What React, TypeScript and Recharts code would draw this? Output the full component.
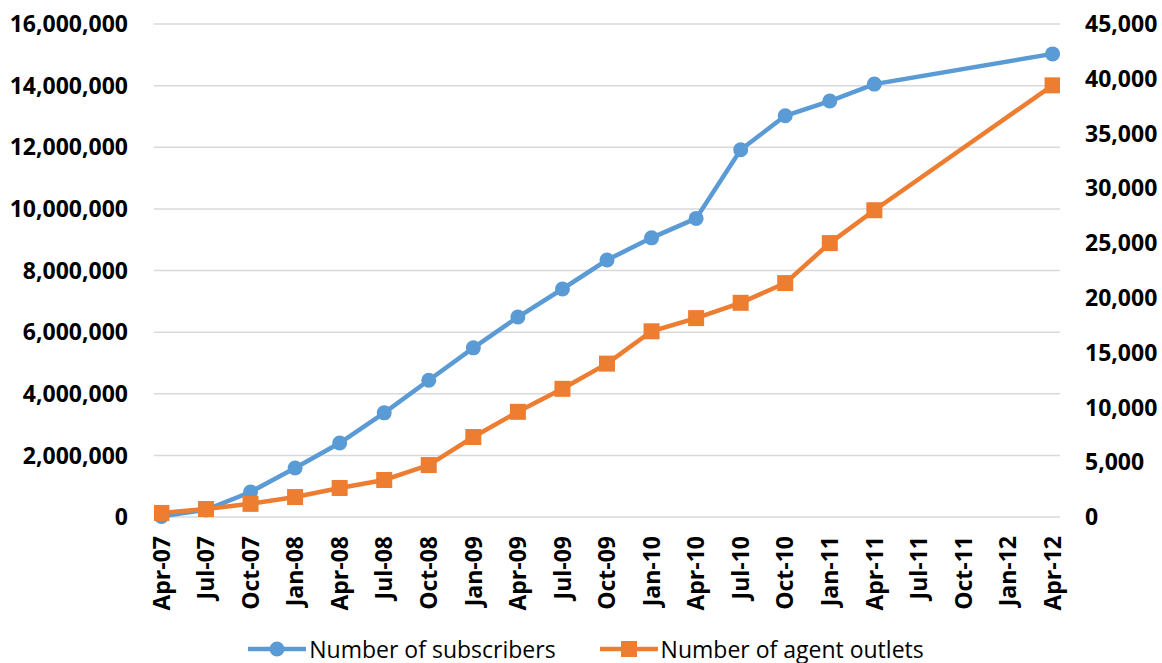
import React from 'react';
import { LineChart, Line, XAxis, YAxis, CartesianGrid, Legend } from 'recharts';

const categories = [
  'Apr-07', 'Jul-07', 'Oct-07', 'Jan-08', 'Apr-08', 'Jul-08', 'Oct-08',
  'Jan-09', 'Apr-09', 'Jul-09', 'Oct-09', 'Jan-10', 'Apr-10', 'Jul-10',
  'Oct-10', 'Jan-11', 'Apr-11', 'Jul-11', 'Oct-11', 'Jan-12', 'Apr-12',
];

const subscribers: (number | null)[] = [
  20000, 230000, 810000, 1590000, 2400000, 3380000, 4440000,
  5490000, 6490000, 7400000, 8340000, 9060000, 9690000, 11920000,
  13020000, 13500000, 14050000, null, null, null, 15030000,
];

const agentOutlets: (number | null)[] = [
  370, 730, 1200, 1820, 2650, 3380, 4740,
  7300, 9600, 11700, 14000, 16950, 18150, 19550,
  21350, 25000, 28000, null, null, null, 39400,
];

const leftTicks = [0, 2000000, 4000000, 6000000, 8000000, 10000000, 12000000, 14000000, 16000000];
const rightTicks = [0, 5000, 10000, 15000, 20000, 25000, 30000, 35000, 40000, 45000];

const MONTHS_PER_CAT = 3;
const TOTAL_MONTHS = 61;

const data = categories.map((c, i) => ({
  label: c,
  m: i * MONTHS_PER_CAT + 0.5,
  subs: subscribers[i],
  agents: agentOutlets[i],
}));

const boundaryTicks = categories.map((_, i) => i * MONTHS_PER_CAT);
const labelTicks = categories.map((_, i) => i * MONTHS_PER_CAT + 0.5);

const BLUE = '#5B9BD5';
const ORANGE = '#ED7D31';
const GRID = '#D9D9D9';
const FONT = '"Open Sans", sans-serif';

const fmt = (v: number) => v.toLocaleString('en-US');

const XLabel = (props: any) => {
  const { x, y, payload } = props;
  const idx = Math.round((payload.value - 0.5) / MONTHS_PER_CAT);
  const ty = y + 19;
  return (
    <text
      x={x}
      y={ty}
      dy="0.36em"
      transform={`rotate(-90, ${x}, ${ty})`}
      textAnchor="end"
      fill="#000"
      fontSize={23}
      fontWeight={700}
      fontFamily={FONT}
    >
      {categories[idx]}
    </text>
  );
};

const SquareDot = (props: any) => {
  const { cx, cy, index } = props;
  if (cx == null || cy == null) return <g key={`sq-${index}`} />;
  return <rect key={`sq-${index}`} x={cx - 8} y={cy - 8} width={16} height={16} fill={ORANGE} />;
};

const CircleDot = (props: any) => {
  const { cx, cy, index } = props;
  if (cx == null || cy == null) return <g key={`ci-${index}`} />;
  return <circle key={`ci-${index}`} cx={cx} cy={cy} r={7.5} fill={BLUE} />;
};

const LegendContent = () => (
  <div
    style={{
      display: 'flex',
      justifyContent: 'center',
      alignItems: 'center',
      gap: 44,
      fontFamily: FONT,
      fontSize: 23,
      color: '#000',
      paddingLeft: 10,
    }}
  >
    <div style={{ display: 'flex', alignItems: 'center' }}>
      <svg width={58} height={20} style={{ marginRight: 3 }}>
        <line x1={0} y1={10} x2={58} y2={10} stroke={BLUE} strokeWidth={4.5} />
        <circle cx={29} cy={10} r={7.5} fill={BLUE} />
      </svg>
      <span>Number of subscribers</span>
    </div>
    <div style={{ display: 'flex', alignItems: 'center' }}>
      <svg width={58} height={20} style={{ marginRight: 3 }}>
        <line x1={0} y1={10} x2={58} y2={10} stroke={ORANGE} strokeWidth={4.5} />
        <rect x={21} y={2} width={16} height={16} fill={ORANGE} />
      </svg>
      <span>Number of agent outlets</span>
    </div>
  </div>
);

export default function App() {
  return (
    <div style={{ position: 'absolute', left: 0, top: 0, width: 1162, height: 663, background: '#fff', fontFamily: FONT }}>
      <LineChart width={1162} height={663} data={data} margin={{ top: 24, right: 0, bottom: 0, left: 0 }}>
        <CartesianGrid vertical={false} stroke={GRID} strokeWidth={1.5} xAxisId="lab" yAxisId="left" />
        <XAxis
          xAxisId="grid"
          dataKey="m"
          type="number"
          domain={[0, TOTAL_MONTHS]}
          ticks={boundaryTicks}
          tick={false}
          tickSize={8}
          tickLine={{ stroke: GRID, strokeWidth: 1.5 }}
          axisLine={{ stroke: GRID, strokeWidth: 1.5 }}
          height={0}
          allowDataOverflow
        />
        <XAxis
          xAxisId="lab"
          dataKey="m"
          type="number"
          domain={[0, TOTAL_MONTHS]}
          ticks={labelTicks}
          tick={<XLabel />}
          tickLine={false}
          axisLine={false}
          tickSize={0}
          tickMargin={0}
          height={146}
          interval={0}
          allowDataOverflow
        />
        <YAxis
          yAxisId="left"
          orientation="left"
          width={154}
          domain={[0, 16000000]}
          ticks={leftTicks}
          tickFormatter={fmt}
          axisLine={false}
          tickLine={false}
          tickSize={0}
          tickMargin={26}
          interval={0}
          tick={{ fill: '#000', fontSize: 23, fontWeight: 700, fontFamily: FONT }}
        />
        <YAxis
          yAxisId="right"
          orientation="right"
          width={102}
          domain={[0, 45000]}
          ticks={rightTicks}
          tickFormatter={fmt}
          axisLine={false}
          tickLine={false}
          tickSize={0}
          tickMargin={25}
          interval={0}
          tick={{ fill: '#000', fontSize: 23, fontWeight: 700, fontFamily: FONT, textAnchor: 'start' }}
        />
        <Legend
          layout="horizontal"
          verticalAlign="middle"
          align="center"
          wrapperStyle={{ top: 633, left: 0, width: 1162 }}
          content={<LegendContent />}
        />
        <Line
          xAxisId="lab"
          yAxisId="left"
          dataKey="subs"
          name="Number of subscribers"
          stroke={BLUE}
          strokeWidth={4.5}
          connectNulls
          dot={<CircleDot />}
          activeDot={false}
          isAnimationActive={false}
        />
        <Line
          xAxisId="lab"
          yAxisId="right"
          dataKey="agents"
          name="Number of agent outlets"
          stroke={ORANGE}
          strokeWidth={4.5}
          connectNulls
          dot={<SquareDot />}
          activeDot={false}
          isAnimationActive={false}
        />
      </LineChart>
    </div>
  );
}
